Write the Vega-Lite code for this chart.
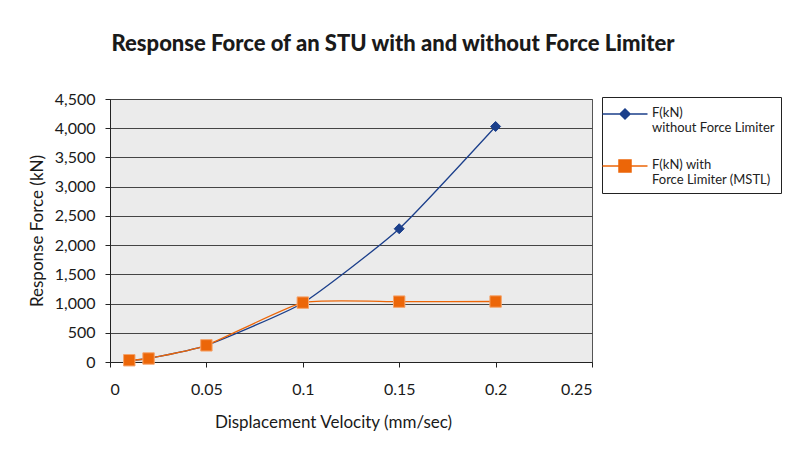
{
  "$schema": "https://vega.github.io/schema/vega-lite/v6.json",
  "width": 482,
  "height": 263,
  "autosize": {"type": "none"},
  "padding": {"left": 110, "top": 99, "right": 195, "bottom": 93},
  "background": "white",
  "config": {
    "font": "Lato",
    "view": {"fill": "#ebebeb", "stroke": "#555555", "strokeWidth": 1}
  },
  "title": {
    "text": "Response Force of an STU with and without Force Limiter",
    "font": "Lato",
    "fontSize": 22,
    "fontWeight": 900,
    "color": "#1a1a1a",
    "anchor": "middle",
    "dx": 42,
    "offset": 35
  },
  "data": {
    "values": [
      {"series": "without", "velocity": 0.01, "force": 30},
      {"series": "without", "velocity": 0.02, "force": 60},
      {"series": "without", "velocity": 0.05, "force": 285},
      {"series": "without", "velocity": 0.1, "force": 1010},
      {"series": "without", "velocity": 0.15, "force": 2280},
      {"series": "without", "velocity": 0.2, "force": 4030},
      {"series": "with", "velocity": 0.01, "force": 30},
      {"series": "with", "velocity": 0.02, "force": 60},
      {"series": "with", "velocity": 0.05, "force": 285},
      {"series": "with", "velocity": 0.1, "force": 1016},
      {"series": "with", "velocity": 0.15, "force": 1033},
      {"series": "with", "velocity": 0.2, "force": 1035}
    ]
  },
  "encoding": {
    "x": {
      "field": "velocity",
      "type": "quantitative",
      "scale": {"domain": [0, 0.25]},
      "axis": {
        "title": "Displacement Velocity (mm/sec)",
        "values": [0, 0.05, 0.1, 0.15, 0.2, 0.25],
        "format": "~g",
        "grid": false,
        "domainColor": "#222",
        "tickColor": "#222",
        "tickSize": 5,
        "labelFontSize": 16,
        "labelColor": "#1a1a1a",
        "labelPadding": 14,
        "titleFontSize": 17,
        "titleFontWeight": "normal",
        "titleColor": "#1a1a1a",
        "titlePadding": 17,
        "titleX": 223
      }
    },
    "y": {
      "field": "force",
      "type": "quantitative",
      "scale": {"domain": [0, 4500]},
      "axis": {
        "title": "Response Force (kN)",
        "values": [0, 500, 1000, 1500, 2000, 2500, 3000, 3500, 4000, 4500],
        "format": ",d",
        "grid": true,
        "gridColor": "#444",
        "gridWidth": 1,
        "domainColor": "#222",
        "tickColor": "#222",
        "tickSize": 5,
        "labelFontSize": 16,
        "labelColor": "#1a1a1a",
        "labelPadding": 10,
        "titleFontSize": 17,
        "titleFontWeight": "normal",
        "titleColor": "#1a1a1a",
        "titlePadding": 8
      }
    }
  },
  "layer": [
    {
      "mark": {"type": "line", "interpolate": "cardinal", "tension": 0.5, "strokeWidth": 1.3},
      "encoding": {
        "color": {
          "field": "series",
          "type": "nominal",
          "scale": {"domain": ["without", "with"], "range": ["#1b3f8b", "#ec6608"]},
          "legend": {
            "orient": "none",
            "legendX": 492,
            "legendY": -2,
            "title": null,
            "strokeColor": "#222",
            "fillColor": "white",
            "padding": 6,
            "labelFont": "Lato",
            "labelFontSize": 13,
            "labelColor": "#222",
            "labelLineHeight": 18,
            "labelBaseline": "top",
            "symbolSize": 400,
            "symbolOffset": 6,
            "labelOffset": 16,
            "rowPadding": 20,
            "labelExpr": "datum.value === 'without' ? ['F(kN)', 'without Force Limiter'] : ['F(kN) with', 'Force Limiter (MSTL)']",
            "encoding": {
              "symbols": {
                "shape": {"value": {"expr": "datum.value === 'without' ? 'M-2.25,0H-0.5M0.5,0H2.25M0,-0.5L0.5,0L0,0.5L-0.5,0Z' : 'M-2.25,0H-0.6M0.6,0H2.25M-0.6,-0.6H0.6V0.6H-0.6Z'"}},
                "fill": {"value": {"expr": "datum.value === 'without' ? '#1b3f8b' : '#ec6608'"}},
                "stroke": {"value": {"expr": "datum.value === 'without' ? '#1b3f8b' : '#ec6608'"}},
                "strokeWidth": {"value": 1.5},
                "opacity": {"value": 1},
                "fillOpacity": {"value": 1},
                "strokeOpacity": {"value": 1}
              },
              "labels": {
                "dy": {"value": -7}
              }
            }
          }
        }
      }
    },
    {
      "transform": [{"filter": "datum.series === 'without'"}],
      "mark": {"type": "point", "shape": "diamond", "filled": true, "opacity": 1, "fill": "#1b3f8b", "stroke": "#1b3f8b", "strokeWidth": 1, "size": 100}
    },
    {
      "transform": [{"filter": "datum.series === 'with'"}],
      "mark": {"type": "point", "shape": "square", "filled": true, "opacity": 1, "fill": "#ec6608", "stroke": "#f5a36a", "strokeWidth": 1, "size": 130}
    }
  ]
}
